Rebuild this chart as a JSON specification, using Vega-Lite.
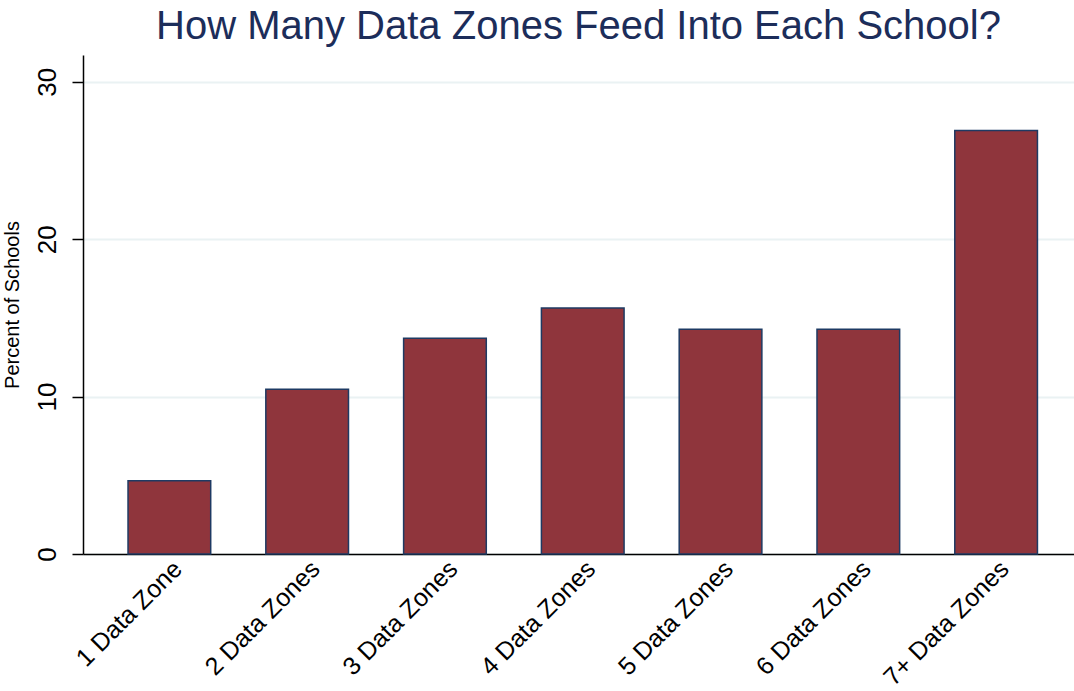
{
  "$schema": "https://vega.github.io/schema/vega-lite/v6.json",
  "autosize": "none",
  "width": 991,
  "height": 499,
  "padding": {"left": 83, "top": 55, "right": 0, "bottom": 137},
  "background": "white",
  "title": {
    "text": "How Many Data Zones Feed Into Each School?",
    "font": "Liberation Sans",
    "fontSize": 40,
    "fontWeight": "normal",
    "color": "#1c2d5a",
    "anchor": "middle",
    "offset": 8
  },
  "data": {
    "values": [
      {"zones": "1 Data Zone", "percent": 4.66},
      {"zones": "2 Data Zones", "percent": 10.46},
      {"zones": "3 Data Zones", "percent": 13.70},
      {"zones": "4 Data Zones", "percent": 15.63},
      {"zones": "5 Data Zones", "percent": 14.27},
      {"zones": "6 Data Zones", "percent": 14.27},
      {"zones": "7+ Data Zones", "percent": 26.9}
    ]
  },
  "config": {
    "view": {"stroke": null},
    "axis": {"labelFont": "Liberation Sans", "titleFont": "Liberation Sans", "labelColor": "black", "titleColor": "black"}
  },
  "mark": {"type": "bar", "color": "#8f353c", "stroke": "#1e3a63", "strokeWidth": 1.5},
  "encoding": {
    "x": {
      "field": "zones",
      "type": "nominal",
      "sort": null,
      "scale": {"paddingInner": 0.4, "paddingOuter": 0.296, "align": 0.552},
      "axis": {
        "title": null,
        "labelAngle": -45,
        "labelAlign": "right",
        "labelBaseline": "top",
        "labelFontSize": 25,
        "labelPadding": 2,
        "ticks": false,
        "domainColor": "black",
        "domainWidth": 1.5,
        "grid": false
      }
    },
    "y": {
      "field": "percent",
      "type": "quantitative",
      "scale": {"domain": [0, 31.7], "nice": false},
      "axis": {
        "title": "Percent of Schools",
        "titleFontSize": 20,
        "titleFontWeight": "normal",
        "titlePadding": 12,
        "values": [0, 10, 20, 30],
        "labelAngle": 270,
        "labelAlign": "center",
        "labelBaseline": "bottom",
        "labelFontSize": 26,
        "labelPadding": 12,
        "tickSize": 11,
        "tickColor": "black",
        "tickWidth": 1.5,
        "domainColor": "black",
        "domainWidth": 1.5,
        "grid": true,
        "gridColor": "#eaf2f3",
        "gridWidth": 2
      }
    }
  }
}
